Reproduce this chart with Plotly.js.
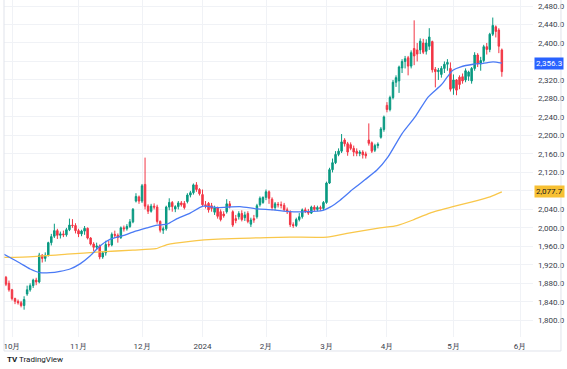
<!DOCTYPE html>
<html><head><meta charset="utf-8">
<script src="https://cdn.plot.ly/plotly-3.0.1.min.js"></script>
<style>html,body{margin:0;padding:0;background:#fff;}#chart{width:567px;height:369px;}</style>
</head><body><div id="chart"></div>
<script>
// Daily OHLC, trading day 1 = 2023-09-28 ... 165 = 2024-05-23
const openP=[1893,1880,1866,1847,1841,1838,1832,1857,1866,1875,1887,1883,1941,1934,1941,1968,1982,1994,1984,1987,1985,1996,2006,2005,
1994,1987,1993,1999,1978,1965,1958,1961,1937,1946,1964,1963,1986,1984,1979,2000,1998,2003,2013,2058,2067,
2058,2094,2047,2036,2047,2045,2014,1995,1998,2045,2055,2041,2046,2054,2053,2057,2071,2076,2093,2083,
2072,2050,2053,2048,2034,2043,2035,2030,2035,2052,2035,2020,2024,2031,2022,2031,2008,2020,2024,2050,2055,
2066,2078,2062,2044,2051,2050,2049,2039,2035,2007,2005,2018,2024,2039,2036,2032,2045,2040,2044,2042,
2055,2097,2126,2141,2159,2166,2190,2182,2180,2172,2166,2161,2164,2160,2190,2184,2168,2178,2196,2213,
2265,2256,2282,2315,2318,2346,2360,2368,2350,2388,2385,2385,2400,2382,2393,2403,2343,2338,2332,2345,2354,2345,
2302,2320,2326,2327,2320,2328,2318,2345,2374,2355,2362,2392,2386,2419,2435,2428,2385];
const highP=[1896,1886,1868,1849,1845,1842,1852,1875,1880,1890,1892,1946,1943,1947,1970,1987,2009,1998,1992,1994,2000,2020,2019,2010,
1998,1996,2004,2001,1980,1969,1968,1964,1950,1972,1972,1990,1994,1988,2003,2005,2008,2019,2043,2075,2070,
2095,2152,2051,2052,2053,2050,2016,2003,2048,2064,2058,2049,2058,2058,2058,2075,2080,2096,2099,2086,
2083,2058,2056,2054,2048,2046,2040,2036,2062,2058,2038,2028,2036,2038,2035,2036,2022,2028,2052,2068,2068,
2083,2081,2066,2056,2056,2057,2054,2044,2038,2012,2022,2032,2042,2044,2041,2048,2049,2048,2048,2058,
2100,2130,2150,2166,2172,2203,2194,2186,2185,2178,2172,2168,2168,2165,2226,2187,2182,2185,2218,2243,
2272,2286,2320,2330,2351,2365,2372,2372,2384,2449,2400,2410,2409,2408,2432,2405,2348,2346,2350,2360,2365,2358,
2332,2322,2330,2334,2345,2340,2348,2380,2378,2370,2396,2400,2422,2455,2438,2432,2388];
const lowP=[1874,1862,1843,1835,1834,1828,1823,1853,1862,1870,1876,1880,1925,1927,1938,1962,1978,1976,1977,1980,1981,1993,2000,1988,
1980,1982,1985,1975,1962,1950,1953,1932,1933,1940,1958,1960,1978,1968,1976,1992,1994,2000,2010,2055,2052,
2054,2040,2030,2033,2040,2009,1990,1987,1994,2038,2035,2034,2040,2046,2040,2053,2066,2072,2078,2070,
2046,2042,2033,2035,2028,2020,2014,2022,2031,2042,2002,2010,2018,2014,2015,2010,2002,2011,2020,2046,2052,
2060,2052,2038,2038,2044,2042,2036,2030,2002,2000,2002,2014,2020,2032,2028,2030,2036,2036,2037,2038,
2052,2095,2120,2138,2155,2162,2176,2156,2168,2155,2155,2155,2150,2150,2178,2162,2164,2172,2193,2208,
2250,2252,2278,2305,2292,2335,2345,2330,2345,2352,2360,2376,2376,2375,2385,2336,2304,2320,2325,2335,2340,2295,
2288,2287,2300,2312,2315,2318,2312,2340,2348,2340,2358,2375,2380,2415,2412,2378,2327];
const closeP=[1878,1866,1847,1841,1838,1832,1845,1866,1875,1887,1883,1941,1934,1941,1968,1981,1994,1984,1987,1985,1996,2006,2005,1994,
1987,1993,1999,1978,1965,1958,1961,1937,1946,1964,1963,1986,1984,1979,2000,1998,2003,2013,2040,2068,2058,
2091,2047,2036,2047,2045,2014,1995,1998,2045,2055,2046,2046,2054,2050,2044,2071,2076,2093,2083,2074,
2050,2048,2039,2042,2043,2025,2018,2026,2052,2046,2006,2016,2031,2018,2028,2014,2017,2017,2048,2064,2066,
2078,2064,2044,2052,2050,2049,2039,2035,2007,2005,2018,2024,2039,2036,2032,2045,2040,2044,2042,2055,
2097,2126,2141,2159,2166,2186,2182,2164,2172,2164,2161,2164,2158,2156,2183,2166,2178,2181,2214,2240,
2256,2282,2315,2325,2348,2360,2366,2350,2379,2372,2376,2404,2380,2400,2413,2342,2338,2341,2345,2354,2358,2300,
2320,2298,2310,2318,2340,2337,2345,2374,2355,2362,2392,2386,2419,2438,2425,2393,2338];

// Moving averages (trading-day index, value)
const blueMaIdx=[0.35,2.3,5.6,9,12.3,15.6,18.9,22.2,25.5,28.8,32.1,35.4,39.7,43,47.6,51,54.3,57.6,61.9,66.2,70.8,78.4,84,89.3,94.9,100.6,105.8,108.2,111.5,115.8,119.7,123.7,127.3,132,136.3,140.6,144.9,146.9,148.8,151.2,155.5,158.8,162.1,165];
const blueMaVal=[1943,1936,1924,1911,1903,1903,1906,1911,1922,1939,1961,1975,1983,1991,2000,2006,2008,2020,2032,2047,2044,2046,2041,2039,2035,2035,2038,2045,2060,2084,2104,2125,2153,2204,2240,2283,2309,2326,2341,2348,2354,2356,2359,2356.3];
const yellowMaIdx=[0.35,9.9,21.2,32.1,43,50.6,54.3,61.9,72.8,87.3,94.9,107.2,113.8,124.7,130.3,135.6,141.2,148.8,155.5,161.1,165];
const yellowMaVal=[1936,1938,1943,1948,1952,1955,1964,1971,1976,1979,1980,1980,1988,2000,2005,2017,2032,2046,2057,2067,2077.7];

const monthTickIdx=[3,25,46,66,87,107,127,149,171];
const monthTickText=['10月','11月','12月','2024','2月','3月','4月','5月','6月'];
const priceTicks=[1800,1840,1880,1920,1960,2000,2040,2080,2120,2160,2200,2240,2280,2320,2360,2400,2440,2480];

const dayIndex=openP.map((_,k)=>k+1);
const UP='#089981', DN='#f23645', BLUE='#4a7af5', GOLD='#f9c74a', LABELBLUE='#2962ff', LABELGOLD='#f7c033';

const traces=[
 {type:'candlestick',x:dayIndex,open:openP,high:highP,low:lowP,close:closeP,
  increasing:{line:{color:UP,width:1},fillcolor:UP},
  decreasing:{line:{color:DN,width:1},fillcolor:DN},
  whiskerwidth:0,hoverinfo:'skip',showlegend:false},
 {type:'scatter',mode:'lines',x:yellowMaIdx,y:yellowMaVal,line:{color:GOLD,width:1.3,shape:'spline',smoothing:0.6},hoverinfo:'skip',showlegend:false},
 {type:'scatter',mode:'lines',x:blueMaIdx,y:blueMaVal,line:{color:BLUE,width:1.3,shape:'spline',smoothing:0.6},hoverinfo:'skip',showlegend:false}
];

const fmt=v=>v.toLocaleString('en-US',{minimumFractionDigits:1,maximumFractionDigits:1});
const lastBlue=blueMaVal[blueMaVal.length-1], lastGold=yellowMaVal[yellowMaVal.length-1];
// tick labels hidden behind the price labels stay blank (gridlines remain)
const priceTickText=priceTicks.map(v=>(Math.abs(v-lastBlue)<12||Math.abs(v-lastGold)<12)?'':fmt(v));

const layout={
 width:567,height:369,margin:{l:4,r:34,t:0,b:32},
 paper_bgcolor:'#fff',plot_bgcolor:'#fff',
 font:{family:'Roboto, "Liberation Sans", sans-serif',size:8,color:'#3a3e4a'},
 xaxis:{range:[0.354,175.3],tickvals:monthTickIdx,ticktext:monthTickText,showgrid:true,gridcolor:'#f0f2f6',
   zeroline:false,showline:false,ticks:'',rangeslider:{visible:false},fixedrange:true,ticklabelstandoff:3,tickfont:{size:8}},
 yaxis:{side:'right',range:[1763.9,2493],tickvals:priceTicks,ticktext:priceTickText,showgrid:true,gridcolor:'#f0f2f6',
   zeroline:false,showline:false,ticks:'',ticklabelstandoff:4,tickfont:{size:8}},
 shapes:[
  {type:'line',xref:'paper',yref:'paper',x0:1.0529,x1:1.0529,y0:-0.0415,y1:1,line:{color:'#e0e3eb',width:1}},
  {type:'line',xref:'paper',yref:'paper',x0:0,x1:1.0529,y0:-0.0415,y1:-0.0415,line:{color:'#e0e3eb',width:1}},
  {type:'line',xref:'paper',yref:'paper',x0:0,x1:0,y0:-0.0415,y1:1,line:{color:'#e0e3eb',width:1}}
 ],
 annotations:[
  {xref:'paper',yref:'y',x:1,y:lastBlue,xanchor:'left',xshift:1,text:fmt(lastBlue),showarrow:false,
   bgcolor:LABELBLUE,font:{color:'#fff',size:8},borderpad:1},
  {xref:'paper',yref:'y',x:1,y:lastGold,xanchor:'left',xshift:1,text:fmt(lastGold),showarrow:false,
   bgcolor:LABELGOLD,font:{color:'#131722',size:8},borderpad:1},
  {xref:'paper',yref:'paper',x:0.002,y:-0.068,xanchor:'left',yanchor:'middle',showarrow:false,
   text:'<b>TV</b> TradingView',font:{color:'#131722',size:8}}
 ]
};
Plotly.newPlot('chart',traces,layout,{staticPlot:true,displayModeBar:false});
</script></body></html>
